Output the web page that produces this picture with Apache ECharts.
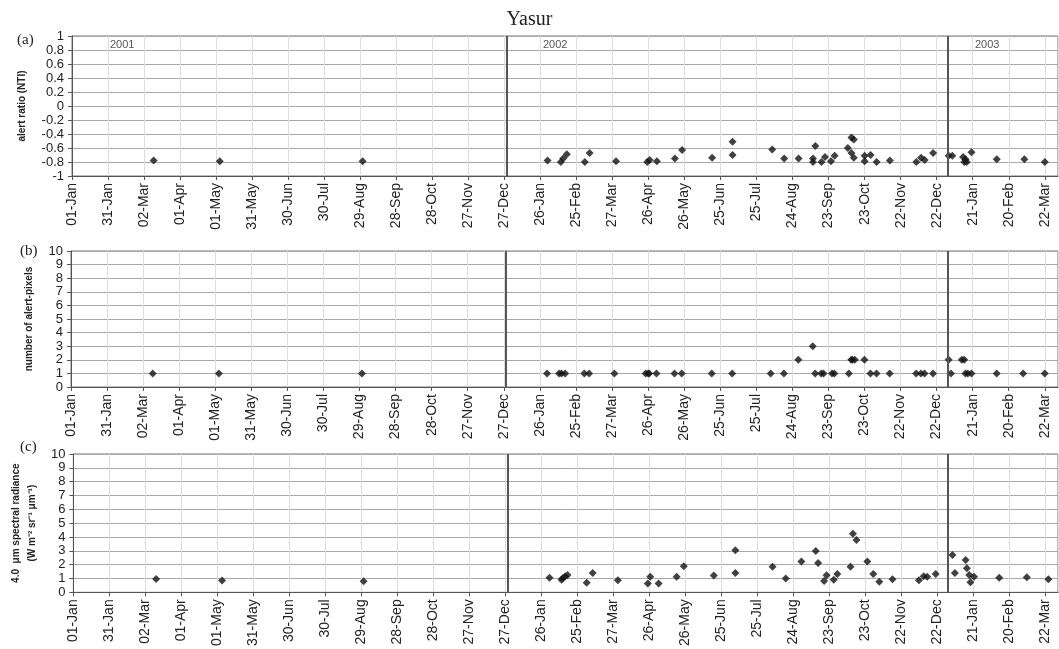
<!DOCTYPE html>
<html>
<head>
<meta charset="utf-8">
<script src="https://cdn.jsdelivr.net/npm/echarts@6/dist/echarts.min.js"></script>
<style>
html,body{margin:0;padding:0;background:#fff;}
#chart{width:1059px;height:649px;}
</style>
</head>
<body>
<div id="chart"></div>
<script>
// x values are days since 01-Jan-2001
const xTickLabels = ['01-Jan','31-Jan','02-Mar','01-Apr','01-May','31-May','30-Jun','30-Jul','29-Aug','28-Sep','28-Oct','27-Nov','27-Dec','26-Jan','25-Feb','27-Mar','26-Apr','26-May','25-Jun','25-Jul','24-Aug','23-Sep','23-Oct','22-Nov','22-Dec','21-Jan','20-Feb','22-Mar'];
const yearLabels = ['2001','2002','2003'];
const yearDividers = [362, 729];

// (a) alert ratio (NTI)
const ntiDays = [68,123,242,396,407,409,412,427,431,453,479,481,487,502,508,533,550,550,583,593,605,617,617,619,624,627,632,635,646,649,651,649,651,660,660,665,670,681,703,707,710,717,730,733,742,744,745,743,749,770,793,810];
const ntiVals = [-0.78,-0.79,-0.79,-0.78,-0.80,-0.75,-0.69,-0.80,-0.67,-0.79,-0.80,-0.77,-0.79,-0.75,-0.63,-0.74,-0.51,-0.70,-0.62,-0.75,-0.75,-0.75,-0.80,-0.57,-0.80,-0.73,-0.79,-0.71,-0.60,-0.45,-0.48,-0.67,-0.74,-0.71,-0.79,-0.70,-0.80,-0.78,-0.80,-0.74,-0.77,-0.67,-0.71,-0.71,-0.73,-0.76,-0.80,-0.80,-0.66,-0.76,-0.76,-0.80];

// (b) number of alert-pixels
const pixDays = [68,123,242,396,406,408,411,427,431,452,478,480,481,487,502,508,533,550,582,593,605,617,619,624,626,633,635,647,649,650,652,660,665,670,681,703,707,710,717,730,732,741,743,744,746,749,770,792,810];
const pixVals = [1,1,1,1,1,1,1,1,1,1,1,1,1,1,1,1,1,1,1,1,2,3,1,1,1,1,1,1,2,2,2,2,1,1,1,1,1,1,1,2,1,2,2,1,1,1,1,1,1];

// (c) 4.0 um spectral radiance
const radDays = [69,124,242,397,407,408,410,412,428,433,454,479,481,488,503,509,534,552,552,583,594,607,619,621,626,628,634,637,648,650,653,662,667,672,683,705,709,712,719,733,735,744,745,747,748,751,772,795,813];
const radVals = [0.97,0.85,0.80,1.05,0.91,1.02,1.14,1.26,0.70,1.40,0.88,0.63,1.12,0.63,1.12,1.88,1.21,3.05,1.40,1.84,1.00,2.23,2.98,2.12,0.81,1.23,0.91,1.33,1.84,4.23,3.79,2.23,1.33,0.77,0.95,0.88,1.16,1.12,1.33,2.70,1.40,2.33,1.74,1.26,0.72,1.12,1.05,1.09,0.95];

const SANS = 'Liberation Sans, Arial, sans-serif';
const SERIF = 'Liberation Serif, Times New Roman, serif';

function xAxisCfg(gi) {
  return {
    type: 'value', gridIndex: gi, min: 0, max: 821, interval: 30,
    axisLine: {show: true, onZero: false, lineStyle: {color: '#555', width: 1}},
    axisTick: {show: true, length: 4, lineStyle: {color: '#555'}},
    axisLabel: {
      rotate: 90, fontSize: 14, color: '#222', fontFamily: SANS, margin: 7,
      showMaxLabel: false,
      formatter: v => { const i = Math.round(v / 30); return (Math.abs(v - i * 30) < 0.01 && xTickLabels[i]) ? xTickLabels[i] : ''; }
    },
    splitLine: {show: true, lineStyle: {color: '#dcdcdc', width: 1}}
  };
}
function yAxisCfg(gi, min, max, interval, name, gap) {
  return {
    type: 'value', gridIndex: gi, min, max, interval,
    name, nameLocation: 'middle', nameRotate: 90, nameGap: gap,
    nameTextStyle: {fontSize: 10, fontWeight: 'bold', fontFamily: SANS, color: '#222', lineHeight: 16},
    axisLine: {show: true, onZero: false, lineStyle: {color: '#555'}},
    axisTick: {show: true, length: 4, lineStyle: {color: '#555'}},
    axisLabel: {fontSize: 13, color: '#222', fontFamily: SANS, margin: 8},
    splitLine: {show: true, lineStyle: {color: '#a8a8a8', width: 1}}
  };
}
function seriesCfg(gi, xs, ys) {
  return {
    type: 'scatter', xAxisIndex: gi, yAxisIndex: gi,
    data: xs.map((d, i) => [d, ys[i]]),
    symbol: 'diamond', symbolSize: 8,
    itemStyle: {color: '#111'},
    markLine: {
      silent: true, symbol: 'none', label: {show: false},
      lineStyle: {color: '#555', width: 2, type: 'solid'},
      data: yearDividers.map(d => ({xAxis: d}))
    },
    z: 3
  };
}

const chart = echarts.init(document.getElementById('chart'), null, {renderer: 'canvas'});
chart.setOption({
  backgroundColor: '#fff',
  animation: false,
  title: {text: 'Yasur', left: 'center', top: 5,
    textStyle: {fontFamily: SERIF, fontSize: 20, fontWeight: 'normal', color: '#222'}},
  grid: [
    {left: 72, right: 1, top: 36, height: 140, show: true, borderColor: '#777', borderWidth: 1},
    {left: 71, right: 1, top: 251, height: 136, show: true, borderColor: '#777', borderWidth: 1},
    {left: 64, right: 1, top: 454, height: 140, show: true, borderColor: '#777', borderWidth: 1}
  ],
  xAxis: [xAxisCfg(0), xAxisCfg(1), xAxisCfg(2)],
  yAxis: [
    yAxisCfg(0, -1, 1, 0.2, 'alert ratio (NTI)', 41),
    yAxisCfg(1, 0, 10, 1, 'number of alert-pixels', 34),
    yAxisCfg(2, 0, 10, 1, '4.0  \u03bcm spectral radiance\n(W m\u207b\u00b2 sr\u207b\u00b9 \u03bcm\u207b\u00b9)', 27)
  ],
  series: [seriesCfg(0, ntiDays, ntiVals), seriesCfg(1, pixDays, pixVals), seriesCfg(2, radDays, radVals)],
  graphic: [
    {type: 'text', left: 17, top: 33, style: {text: '(a)', font: '15px ' + SERIF, fill: '#222'}},
    {type: 'text', left: 20, top: 244, style: {text: '(b)', font: '15px ' + SERIF, fill: '#222'}},
    {type: 'text', left: 20, top: 440, style: {text: '(c)', font: '15px ' + SERIF, fill: '#222'}},
    {type: 'text', left: 110, top: 39, style: {text: yearLabels[0], font: '11px ' + SANS, fill: '#555'}},
    {type: 'text', left: 543, top: 39, style: {text: yearLabels[1], font: '11px ' + SANS, fill: '#555'}},
    {type: 'text', left: 975, top: 39, style: {text: yearLabels[2], font: '11px ' + SANS, fill: '#555'}}
  ]
});
</script>
</body>
</html>
